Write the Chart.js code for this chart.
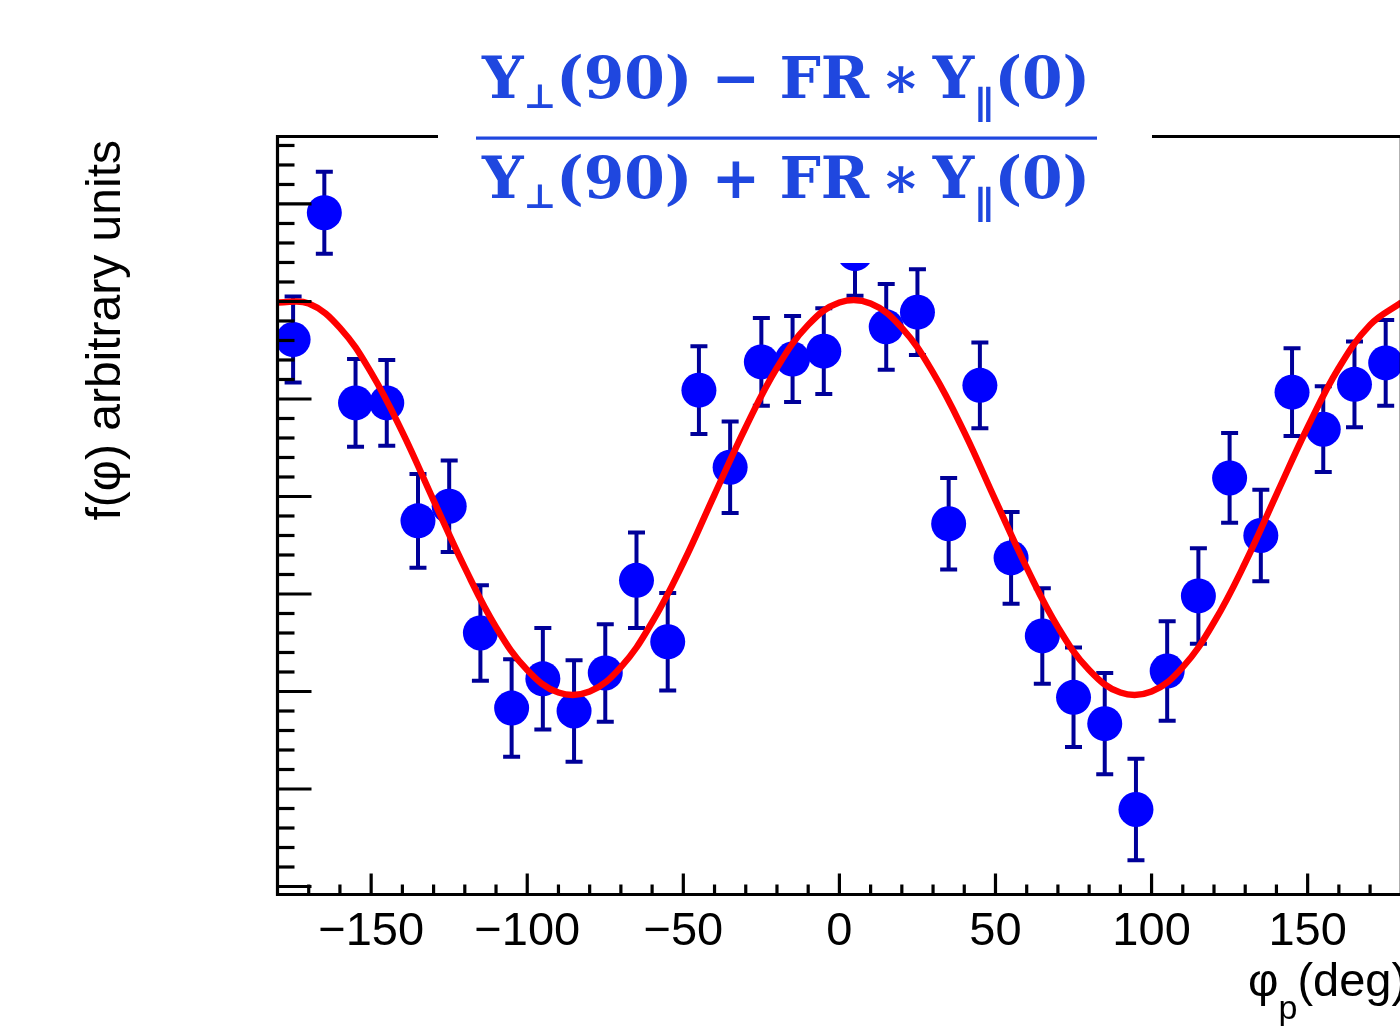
<!DOCTYPE html>
<html>
<head>
<meta charset="utf-8">
<script src="https://cdn.jsdelivr.net/npm/chart.js@4.4.1/dist/chart.umd.min.js"></script>
<style>
  html, body { margin: 0; padding: 0; background: #fff; overflow: hidden; }
  #wrap { position: absolute; left: 0; top: 0; width: 1410px; height: 1030px; }
</style>
</head>
<body>
<div id="wrap"><canvas id="chart" width="1410" height="1030"></canvas></div>
<script>
// bin centres (deg) and measured yields, arbitrary units
const phiBins = [-175, -165, -155, -145, -135, -125, -115, -105, -95, -85, -75, -65, -55, -45, -35, -25, -15, -5,
                 5, 15, 25, 35, 45, 55, 65, 75, 85, 95, 105, 115, 125, 135, 145, 155, 165, 175];
const yields  = [5.61, 6.91, 4.96, 4.96, 3.75, 3.90, 2.60, 1.83, 2.13, 1.80, 2.19, 3.14, 2.51, 5.09, 4.30, 5.38, 5.41, 5.49,
                 6.49, 5.74, 5.89, 3.72, 5.14, 3.37, 2.57, 1.94, 1.67, 0.79, 2.21, 2.98, 4.19, 3.60, 5.07, 4.69, 5.15, 5.37];
const yieldErr = [0.44, 0.42, 0.45, 0.44, 0.48, 0.47, 0.49, 0.50, 0.52, 0.52, 0.50, 0.49, 0.50, 0.45, 0.47, 0.45, 0.44, 0.44,
                  0.43, 0.44, 0.44, 0.47, 0.44, 0.47, 0.49, 0.51, 0.52, 0.52, 0.51, 0.49, 0.46, 0.47, 0.45, 0.44, 0.44, 0.44];

// fit curve every 10 deg
const fitPhi  = [-180, -170, -160, -150, -140, -130, -120, -110, -100, -90, -80, -70, -60, -50, -40, -30, -20, -10,
                 0, 10, 20, 30, 40, 50, 60, 70, 80, 90, 100, 110, 120, 130, 140, 150, 160, 170, 180];
const fitVals = [5.99, 5.98, 5.73, 5.27, 4.66, 3.96, 3.27, 2.66, 2.22, 1.99, 2.00, 2.25, 2.71, 3.32, 4.02, 4.71, 5.32, 5.76,
                 5.99, 5.98, 5.73, 5.27, 4.66, 3.96, 3.27, 2.66, 2.22, 1.99, 2.00, 2.25, 2.71, 3.32, 4.02, 4.71, 5.32, 5.76, 5.99];

const xTickLabels = [-150, -100, -50, 0, 50, 100, 150];
const yTitle = 'f(\u03c6) arbitrary units';

const sans = '"Liberation Sans", Arial, Helvetica, sans-serif';
const serif = '"DejaVu Serif", "Liberation Serif", serif';
const titleBlue = '#1f47df';

function drawExpr(ctx, segs, left, right, base) {
  let w = 0;
  segs.forEach(s => {
    ctx.font = `bold ${s.size}px ${serif}`;
    s.w = ctx.measureText(s.t).width;
    w += s.w;
  });
  ctx.save();
  ctx.translate(left, base);
  ctx.scale((right - left) / w, 1);
  let cx = 0;
  segs.forEach(s => {
    ctx.font = `bold ${s.size}px ${serif}`;
    ctx.fillText(s.t, cx, s.dy || 0);
    cx += s.w;
  });
  ctx.restore();
}

function fraction(op) {
  return [
    { t: 'Y', size: 58 },
    { t: '\u22a5', size: 34, dy: 10 },
    { t: '(90)\u2004', size: 58 },
    { t: op, size: 58 },
    { t: '\u2004FR\u2009', size: 58 },
    { t: '\u2217', size: 58 },
    { t: '\u2009Y', size: 58 },
    { t: '\u2225', size: 38, dy: 20 },
    { t: '(0)', size: 58 }
  ];
}

const decor = {
  id: 'decor',
  beforeDatasetsDraw(chart) {
    const { ctx, chartArea: a, scales: { x, y } } = chart;
    ctx.save();
    ctx.beginPath();
    ctx.rect(a.left, a.top, a.right - a.left, a.bottom - a.top);
    ctx.clip();
    ctx.strokeStyle = '#000099';
    ctx.lineWidth = 4;
    phiBins.forEach((p, i) => {
      const px = x.getPixelForValue(p);
      const top = y.getPixelForValue(yields[i] + yieldErr[i]);
      const bot = y.getPixelForValue(yields[i] - yieldErr[i]);
      ctx.beginPath();
      ctx.moveTo(px, top); ctx.lineTo(px, bot);
      ctx.moveTo(px - 8.5, top); ctx.lineTo(px + 8.5, top);
      ctx.moveTo(px - 8.5, bot); ctx.lineTo(px + 8.5, bot);
      ctx.stroke();
    });
    ctx.restore();
  },
  afterDatasetsDraw(chart) {
    const { ctx, chartArea: a, scales: { x, y } } = chart;
    ctx.save();
    ctx.strokeStyle = '#000';
    ctx.lineWidth = 3.2;

    // y ticks (inside, from the left axis)
    for (let k = 0; k <= 38; k++) {
      const py = y.getPixelForValue(k / 5);
      const len = k % 5 === 0 ? 34 : 17;
      ctx.beginPath(); ctx.moveTo(a.left, py); ctx.lineTo(a.left + len, py); ctx.stroke();
    }
    // x ticks (inside, from the bottom axis)
    for (let v = -170; v <= 170; v += 10) {
      const px = x.getPixelForValue(v);
      const len = v % 50 === 0 ? 21 : 10;
      ctx.beginPath(); ctx.moveTo(px, a.bottom); ctx.lineTo(px, a.bottom - len); ctx.stroke();
    }
    // frame
    ctx.beginPath();
    ctx.moveTo(a.left, a.top); ctx.lineTo(a.left, a.bottom + 1.6);
    ctx.moveTo(a.left - 1.6, a.bottom); ctx.lineTo(a.right, a.bottom); ctx.lineTo(a.right, a.top);
    ctx.moveTo(a.left - 1.6, a.top); ctx.lineTo(a.right, a.top);
    ctx.stroke();

    // tick labels
    ctx.fillStyle = '#000';
    ctx.font = `47px ${sans}`;
    ctx.textAlign = 'center';
    ctx.textBaseline = 'alphabetic';
    xTickLabels.forEach(v => {
      const txt = v < 0 ? '\u2212' + Math.abs(v) : String(v);
      ctx.fillText(txt, x.getPixelForValue(v), 945);
    });

    // x title: phi_p (deg)
    ctx.textAlign = 'left';
    let cx = 1248;
    ctx.font = `47px ${sans}`;
    ctx.fillText('\u03c6', cx, 996);
    cx += ctx.measureText('\u03c6').width;
    ctx.font = `34px ${sans}`;
    ctx.fillText('p', cx, 1019);
    cx += ctx.measureText('p').width;
    ctx.font = `47px ${sans}`;
    ctx.fillText('(deg)', cx, 996);

    // y title
    ctx.save();
    ctx.translate(120, 140);
    ctx.rotate(-Math.PI / 2);
    ctx.textAlign = 'right';
    ctx.font = `48px ${sans}`;
    ctx.fillText(yTitle, 0, 0);
    ctx.restore();

    // pasted formula with white backing
    ctx.fillStyle = '#fff';
    ctx.fillRect(438, 20, 714, 243);
    ctx.fillStyle = titleBlue;
    ctx.textAlign = 'left';
    drawExpr(ctx, fraction('\u2212'), 482, 1090, 98);
    ctx.fillRect(476, 136.5, 621, 3.2);
    drawExpr(ctx, fraction('+'), 482, 1090, 198);
    ctx.restore();
  }
};

new Chart(document.getElementById('chart'), {
  type: 'scatter',
  data: {
    datasets: [
      {
        type: 'line',
        data: fitPhi.map((p, i) => ({ x: p, y: fitVals[i] })),
        borderColor: '#ff0000',
        borderWidth: 6.5,
        pointRadius: 0,
        tension: 0.4,
        fill: false,
        clip: 0,
        order: 0
      },
      {
        data: phiBins.map((p, i) => ({ x: p, y: yields[i] })),
        backgroundColor: '#0000ff',
        borderWidth: 0,
        pointRadius: 17.5,
        clip: 0,
        order: 1
      }
    ]
  },
  options: {
    responsive: false,
    devicePixelRatio: 1,
    animation: false,
    layout: { autoPadding: false, padding: { left: 277.5, top: 136.5, right: 8.7, bottom: 135.5 } },
    scales: {
      x: { type: 'linear', min: -180, max: 180, display: false },
      y: { type: 'linear', min: -0.082, max: 7.692, display: false }
    },
    plugins: { legend: { display: false }, tooltip: { enabled: false } }
  },
  plugins: [decor]
});
</script>
</body>
</html>
